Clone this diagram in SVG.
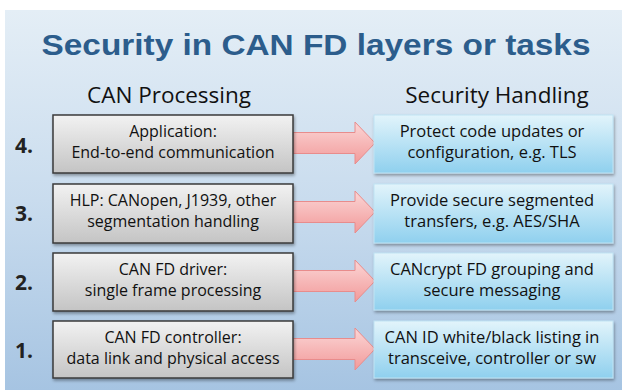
<svg xmlns="http://www.w3.org/2000/svg" width="622" height="390" viewBox="0 0 622 390">
<defs>
<linearGradient id="bg" x1="0" y1="0" x2="0" y2="1">
<stop offset="0" stop-color="#e4eef6"/>
<stop offset="0.5" stop-color="#c9dcee"/>
<stop offset="1" stop-color="#a6c4e2"/>
</linearGradient>
<linearGradient id="grey" x1="0" y1="0" x2="0" y2="1">
<stop offset="0" stop-color="#f2f2f2"/>
<stop offset="1" stop-color="#c4c4c4"/>
</linearGradient>
<linearGradient id="cyan" x1="0" y1="0" x2="0" y2="1">
<stop offset="0" stop-color="#e2f4fb"/>
<stop offset="1" stop-color="#8fd0ee"/>
</linearGradient>
<linearGradient id="pink" x1="0" y1="0" x2="0" y2="1">
<stop offset="0" stop-color="#fbd6d6"/>
<stop offset="1" stop-color="#f29a9a"/>
</linearGradient>
<filter id="sh" x="-5%" y="-5%" width="115%" height="125%">
<feDropShadow dx="1" dy="2" stdDeviation="1.5" flood-color="#000" flood-opacity="0.35"/>
</filter>
<path id="arr" d="M0,-10.5 H62 V-21 L82,0 L62,21 V10.5 H0 Z"/>
</defs>
<style>
.title{font-family:"Liberation Sans",Arial,sans-serif;font-weight:bold;font-size:29px;fill:#2c5d8c}
.hdr{font-family:"Open Sans",sans-serif;font-size:22.5px;fill:#111;text-anchor:middle}
.num{font-family:"Open Sans",sans-serif;font-size:21px;font-weight:bold;fill:#222}
.t{font-family:"Open Sans",sans-serif;font-size:16px;fill:#111;text-anchor:middle}
.tr{font-size:16.5px}
.lb{fill:url(#grey);stroke:#3a3a3a;stroke-width:1.5;filter:url(#sh)}
.rb{fill:url(#cyan);stroke:#bfe3f3;stroke-width:1;filter:url(#sh)}
.ar{fill:url(#pink);stroke:#e88c8c;stroke-width:1}
</style>
<rect x="0" y="0" width="622" height="390" fill="#ffffff"/>
<rect x="5" y="10" width="617" height="380" fill="url(#bg)"/>
<text class="title" x="316" y="55" text-anchor="middle" textLength="549" lengthAdjust="spacingAndGlyphs">Security in CAN FD layers or tasks</text>
<text class="hdr" x="169" y="103">CAN Processing</text>
<text class="hdr" x="497" y="103">Security Handling</text>
<g id="connectors">
<use href="#arr" class="ar" x="293" y="143"/>
<use href="#arr" class="ar" x="293" y="212"/>
<use href="#arr" class="ar" x="293" y="281"/>
<use href="#arr" class="ar" x="293" y="349"/>
</g>
<g id="n4">
<text class="num" x="15" y="153">4.</text>
<rect class="lb" x="53" y="115" width="240" height="58"/>
<text class="t" x="173" y="137">Application:</text>
<text class="t" x="173" y="158">End-to-end communication</text>
</g>
<g id="n3">
<text class="num" x="15" y="221">3.</text>
<rect class="lb" x="53" y="184" width="240" height="59"/>
<text class="t" x="173" y="206">HLP: CANopen, J1939, other</text>
<text class="t" x="173" y="227">segmentation handling</text>
</g>
<g id="n2">
<text class="num" x="15" y="290">2.</text>
<rect class="lb" x="53" y="253" width="240" height="58"/>
<text class="t" x="173" y="275">CAN FD driver:</text>
<text class="t" x="173" y="296">single frame processing</text>
</g>
<g id="n1">
<text class="num" x="15" y="358">1.</text>
<rect class="lb" x="53" y="321" width="240" height="57"/>
<text class="t" x="173" y="343">CAN FD controller:</text>
<text class="t" x="173" y="364">data link and physical access</text>
</g>
<g id="s4">
<rect class="rb" x="374" y="115" width="239" height="58"/>
<text class="t tr" x="492" y="137">Protect code updates or</text>
<text class="t tr" x="492" y="158">configuration, e.g. TLS</text>
</g>
<g id="s3">
<rect class="rb" x="374" y="184" width="239" height="59"/>
<text class="t tr" x="492" y="206">Provide secure segmented</text>
<text class="t tr" x="492" y="227">transfers, e.g. AES/SHA</text>
</g>
<g id="s2">
<rect class="rb" x="374" y="253" width="239" height="57"/>
<text class="t tr" x="492" y="275">CANcrypt FD grouping and</text>
<text class="t tr" x="492" y="296">secure messaging</text>
</g>
<g id="s1">
<rect class="rb" x="374" y="321" width="239" height="57"/>
<text class="t tr" x="492" y="343">CAN ID white/black listing in</text>
<text class="t tr" x="492" y="364">transceive, controller or sw</text>
</g>
</svg>
